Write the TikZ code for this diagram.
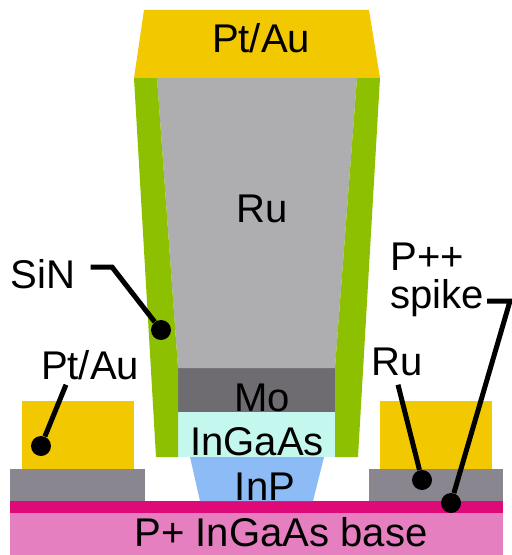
\documentclass[tikz,border=0pt]{standalone}
\usepackage{fontspec}
\setmainfont{Liberation Sans}
\usetikzlibrary{calc}
\definecolor{ptau}{RGB}{242, 200, 0}
\definecolor{sinx}{RGB}{140, 192, 0}
\definecolor{ruthen}{RGB}{174, 174, 176}
\definecolor{rucontact}{RGB}{138, 134, 144}
\definecolor{moly}{RGB}{110, 108, 112}
\definecolor{ingaas}{RGB}{196, 247, 238}
\definecolor{inp}{RGB}{140, 187, 245}
\definecolor{spike}{RGB}{222, 10, 120}
\definecolor{basepink}{RGB}{230, 127, 191}
\tikzset{
  lbl/.style={anchor=base, inner sep=0pt, text=black, font=\fontsize{22.8}{24}\selectfont},
  leader/.style={draw=black, line width=1mm},
  leaddot/.style={circle, fill=black, inner sep=0pt, minimum size=4mm}
}

\begin{document}
\begin{tikzpicture}[x=0.2mm, y=-0.2mm]
  \useasboundingbox (0,0) rectangle (512,555);
  % ── Base layers ──
  \fill[basepink] (10,513) rectangle (503,555);
  \fill[spike] (10,501) rectangle (503,513);
  % ── Side contacts ──
  \fill[rucontact] (10,469) rectangle (145,501);
  \fill[ptau] (22,401) rectangle (134,469);
  \fill[rucontact] (369,469) rectangle (503,501);
  \fill[ptau] (380,401) rectangle (492,469);
  % ── Emitter stack ──
  \fill[inp] (190,457) -- (324,457) -- (313,501) -- (200,501) -- cycle;
  \fill[ingaas] (178,412) rectangle (335,457);
  \fill[moly] (178,368) rectangle (335,412);
  \fill[ruthen] (157,78) -- (357,78) -- (335,368) -- (178,368) -- cycle;
  \fill[sinx] (134,78) -- (157,78) -- (178,368) -- (178,457) -- (156,457) -- cycle;
  \fill[sinx] (357,78) -- (380,78) -- (358,457) -- (335,457) -- (335,368) -- cycle;
  \fill[ptau] (144,10) -- (369,10) -- (380,78) -- (134,78) -- cycle;
  % ── Labels ──
  \node[lbl] (topmetal) at (261,53) {Pt/Au};
  \node[lbl] (rulabel) at (262,222) {Ru};
  \node[lbl] (molabel) at (262,411) {Mo};
  \node[lbl] (ingaaslabel) at (257,455) {InGaAs};
  \node[lbl] (inplabel) at (265,500) {InP};
  \node[lbl] (baselabel) at (281,546) {P+ InGaAs base};
  \node[lbl] (sinlabel) at (43,288) {SiN};
  \node[lbl] (ptlabel) at (90,379) {Pt/Au};
  \node[lbl] (rucontactlabel) at (397,375) {Ru};
  \node[lbl, anchor=base west] (pplabel) at (390,270) {P++};
  \node[lbl, anchor=base west] (spikelabel) at (390,308) {spike};
  % ── Leader dots ──
  \node[leaddot] (sindot) at (161,330) {};
  \node[leaddot] (ptdot) at (41,446) {};
  \node[leaddot] (rudot) at (422,480) {};
  \node[leaddot] (spikedot) at (451,503) {};
  % ── Leaders ──
  \coordinate (sinknee) at (112,267);
  \coordinate (spikeknee) at (510,301);
  \draw[leader] ($(sinlabel.base east)+(15,-21)$) -- (sinknee) -- (sindot);
  \draw[leader] ($(ptlabel.south)+(-24,5)$) -- (ptdot);
  \draw[leader] ($(rucontactlabel.south)+(1,9)$) -- (rudot);
  \draw[leader] ($(spikelabel.base east)+(3,-7)$) -- (spikeknee) -- (spikedot);
\end{tikzpicture}
\end{document}
